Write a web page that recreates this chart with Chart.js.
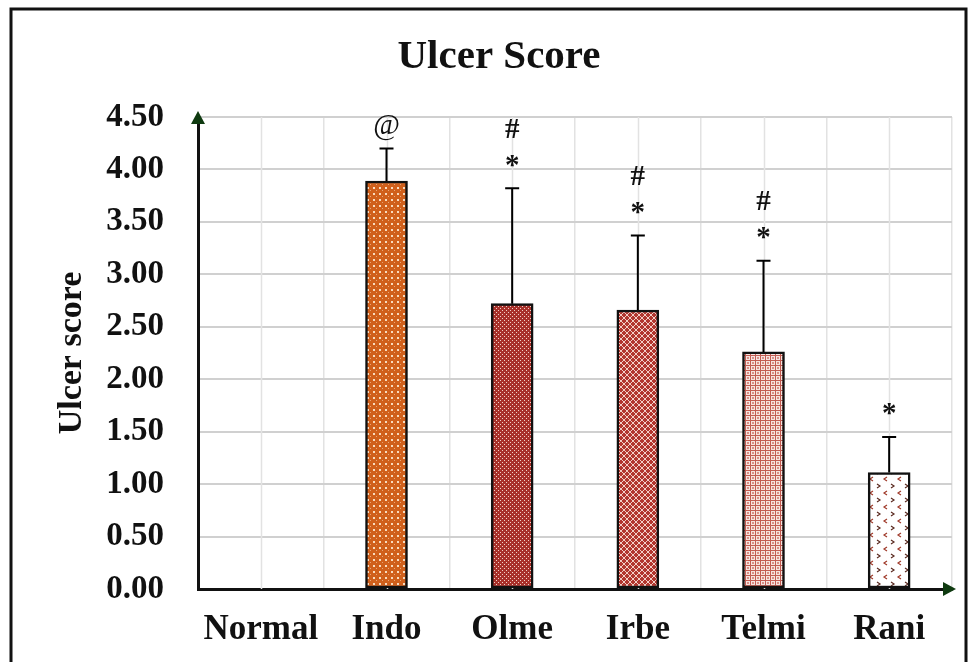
<!DOCTYPE html>
<html>
<head>
<meta charset="utf-8">
<script src="https://cdn.jsdelivr.net/npm/chart.js@4"></script>
<style>
  html, body { margin: 0; padding: 0; background: #fff; }
  #wrap { width: 976px; height: 662px; position: relative; }
</style>
</head>
<body>
<div id="wrap"><canvas id="ulcerChart" width="976" height="662"></canvas></div>
<script>
// data
const categories = ['Normal', 'Indo', 'Olme', 'Irbe', 'Telmi', 'Rani'];
const meanScores = [0, 3.89, 2.72, 2.66, 2.26, 1.11];
const errorUp = [0, 0.31, 1.10, 0.71, 0.87, 0.34];
const marks = [[], ['@'], ['*', '#'], ['*', '#'], ['*', '#'], ['*']];
const yTicks = [0, 0.5, 1, 1.5, 2, 2.5, 3, 3.5, 4, 4.5];
const chartTitle = 'Ulcer Score';

const serif = '"Liberation Serif", "Times New Roman", serif';

// fill patterns for each group
function makePattern(kind) {
    const c = document.createElement('canvas');
    const g = c.getContext('2d');
    if (kind === 'indo') {
        c.width = 6; c.height = 6;
        g.fillStyle = '#d0601c'; g.fillRect(0, 0, 6, 6);
        g.fillStyle = '#f8dcc0'; g.fillRect(1, 1, 2, 2);
        g.fillStyle = '#eaa878'; g.fillRect(4, 4, 1, 1);
    } else if (kind === 'olme') {
        c.width = 4; c.height = 4;
        g.fillStyle = '#a8302a'; g.fillRect(0, 0, 4, 4);
        g.fillStyle = '#f2d0c8'; g.fillRect(0, 0, 1, 1); g.fillRect(2, 2, 1, 1);
    } else if (kind === 'irbe') {
        c.width = 6; c.height = 6;
        g.fillStyle = '#b2362e'; g.fillRect(0, 0, 6, 6);
        g.strokeStyle = '#f2cfc8'; g.lineWidth = 1;
        g.beginPath(); g.moveTo(0, 0); g.lineTo(6, 6); g.moveTo(6, 0); g.lineTo(0, 6); g.stroke();
    } else if (kind === 'telmi') {
        c.width = 5; c.height = 5;
        g.fillStyle = '#f6e4e0'; g.fillRect(0, 0, 5, 5);
        g.fillStyle = '#c25c52'; g.fillRect(0, 0, 5, 1); g.fillRect(0, 0, 1, 5);
        g.fillStyle = '#da9088'; g.fillRect(2, 2, 2, 2);
    } else if (kind === 'rani') {
        c.width = 14; c.height = 14;
        g.fillStyle = '#ffffff'; g.fillRect(0, 0, 14, 14);
        g.strokeStyle = '#a03a2a'; g.lineWidth = 1.2;
        g.beginPath(); g.moveTo(5, 1); g.lineTo(2, 3); g.lineTo(5, 5); g.stroke();
        g.strokeStyle = '#5a2a20';
        g.beginPath(); g.moveTo(9, 8); g.lineTo(12, 10); g.lineTo(9, 12); g.stroke();
    } else {
        c.width = 2; c.height = 2;
        g.fillStyle = '#ffffff'; g.fillRect(0, 0, 2, 2);
    }
    return g.createPattern(c, 'repeat');
}
const fills = ['none', 'indo', 'olme', 'irbe', 'telmi', 'rani'].map(makePattern);

// frame, title, centre gridlines, error bars, marks and axis arrows
const extras = {
    id: 'extras',
    beforeDraw(chart) {
        const ctx = chart.ctx;
        ctx.save();
        ctx.strokeStyle = '#111';
        ctx.lineWidth = 3;
        ctx.strokeRect(11, 9, 955, 700);
        ctx.fillStyle = '#111';
        ctx.font = 'bold 41px ' + serif;
        ctx.textAlign = 'center';
        ctx.textBaseline = 'middle';
        ctx.fillText(chartTitle, 499, 57);
        ctx.restore();
    },
    beforeDatasetsDraw(chart) {
        const ctx = chart.ctx, x = chart.scales.x, area = chart.chartArea;
        ctx.save();
        ctx.strokeStyle = '#e2e2e2';
        ctx.lineWidth = 1.5;
        categories.forEach((c, i) => {
            const px = Math.round(x.getPixelForValue(i)) + 0.5;
            ctx.beginPath(); ctx.moveTo(px, area.top); ctx.lineTo(px, area.bottom); ctx.stroke();
        });
        ctx.restore();
    },
    afterDatasetsDraw(chart) {
        const ctx = chart.ctx, x = chart.scales.x, y = chart.scales.y, area = chart.chartArea;
        ctx.save();
        ctx.strokeStyle = '#000';
        ctx.lineWidth = 2;
        meanScores.forEach((v, i) => {
            if (!errorUp[i]) return;
            const px = x.getPixelForValue(i);
            const y0 = y.getPixelForValue(v), y1 = y.getPixelForValue(v + errorUp[i]);
            ctx.beginPath();
            ctx.moveTo(px, y0); ctx.lineTo(px, y1);
            ctx.moveTo(px - 7, y1); ctx.lineTo(px + 7, y1);
            ctx.stroke();
        });
        // significance marks
        ctx.fillStyle = '#111';
        ctx.textAlign = 'center';
        ctx.textBaseline = 'middle';
        marks.forEach((m, i) => {
            const px = x.getPixelForValue(i);
            const top = y.getPixelForValue(meanScores[i] + errorUp[i]);
            m.forEach((s, k) => {
                ctx.font = (s === '@' ? '' : 'bold ') + '29px ' + serif;
                const off = s === '@' ? 22 : (k === 0 ? 27 : 58);
                ctx.fillText(s, px, top - off + (s === '*' ? 5 : 0));
            });
        });
        // arrow heads
        ctx.fillStyle = '#0f3a10';
        ctx.beginPath();
        ctx.moveTo(area.left, area.top - 6);
        ctx.lineTo(area.left - 7, area.top + 7);
        ctx.lineTo(area.left + 7, area.top + 7);
        ctx.closePath(); ctx.fill();
        ctx.beginPath();
        ctx.moveTo(area.right + 4, area.bottom);
        ctx.lineTo(area.right - 9, area.bottom - 7);
        ctx.lineTo(area.right - 9, area.bottom + 7);
        ctx.closePath(); ctx.fill();
        ctx.restore();
    }
};

new Chart(document.getElementById('ulcerChart').getContext('2d'), {
    type: 'bar',
    data: {
        labels: categories,
        datasets: [{
            label: 'Ulcer score',
            data: meanScores,
            backgroundColor: fills,
            borderColor: '#111',
            borderWidth: 2.5,
            borderSkipped: false,
            barThickness: 42
        }]
    },
    plugins: [extras],
    options: {
        responsive: false,
        animation: false,
        layout: { padding: { left: 10, right: 24, top: 117, bottom: 0 } },
        plugins: {
            legend: { display: false },
            tooltip: { enabled: false },
            title: { display: false }
        },
        scales: {
            x: {
                afterFit(scale) { scale.height = 73; },
                grid: { color: '#e2e2e2', lineWidth: 1.5, drawTicks: false, offset: true },
                border: { color: '#111', width: 3 },
                ticks: {
                    color: '#111',
                    padding: 20,
                    font: { family: serif, size: 35, weight: 'bold' }
                }
            },
            y: {
                min: 0,
                max: 4.5,
                afterFit(scale) { scale.width = 188; },
                afterBuildTicks(scale) { scale.ticks = yTicks.map(v => ({ value: v })); },
                grid: { color: '#d0d0d0', lineWidth: 2, drawTicks: false },
                border: { color: '#111', width: 3 },
                ticks: {
                    color: '#111',
                    padding: 34,
                    font: { family: serif, size: 33, weight: 'bold' },
                    callback: v => Number(v).toFixed(2)
                },
                title: {
                    display: true,
                    text: 'Ulcer score',
                    color: '#111',
                    font: { family: serif, size: 34, weight: 'bold', lineHeight: 1.2 },
                    padding: { top: 42, bottom: 0 }
                }
            }
        }
    }
});
</script>
</body>
</html>
